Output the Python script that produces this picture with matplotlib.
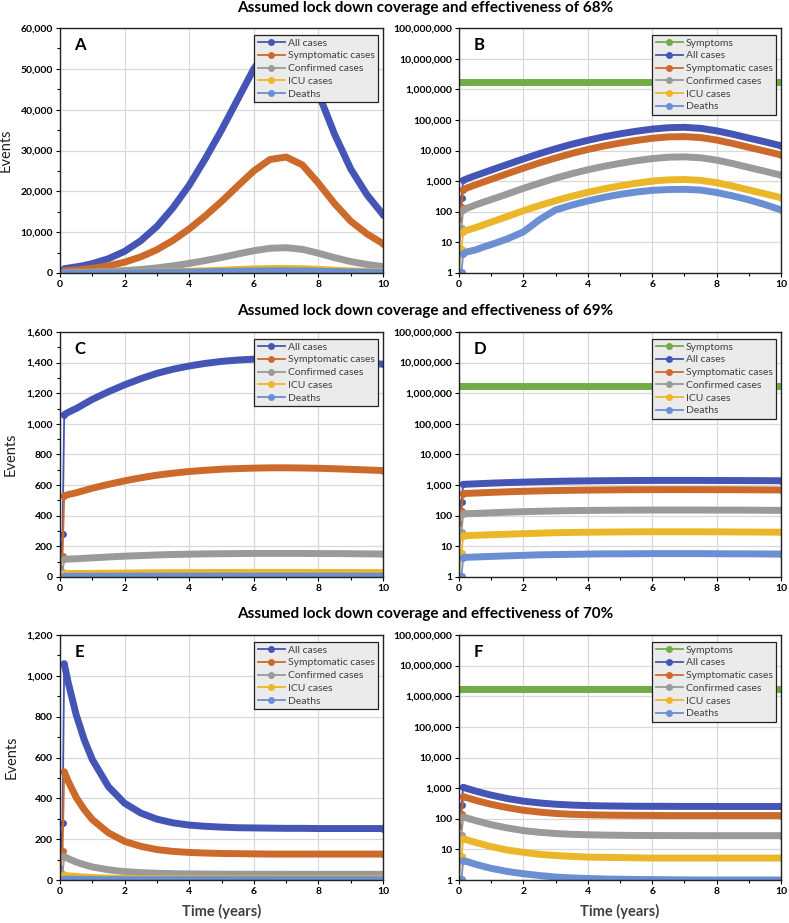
import matplotlib.pyplot as plt
import matplotlib.ticker as mticker
import numpy as np

plt.rcParams['font.family'] = ['Lato', 'DejaVu Sans']

# time points (years)
t = [0, 0.08, 0.13, 0.25, 0.5, 0.75, 1, 1.5, 2, 2.5, 3, 3.5, 4, 4.5, 5, 5.5,
     6, 6.5, 7, 7.5, 8, 8.5, 9, 9.5, 10]

symptoms = [1750000, 1750000, 1750000, 1750000, 1750000, 1750000, 1750000, 1750000,
            1750000, 1750000, 1750000, 1750000, 1750000, 1750000, 1750000, 1750000,
            1750000, 1750000, 1750000, 1750000, 1750000, 1750000, 1750000, 1750000, 1750000]

# 68% lock down
all68 = [60, 280, 1060, 1200, 1500, 1850, 2300, 3500, 5300, 7900, 11400, 16000, 21500,
         28000, 35000, 42500, 50000, 55500, 57000, 53000, 44000, 34000, 25500, 19200, 14300]
sym68 = [30, 140, 530, 600, 750, 930, 1150, 1750, 2650, 3950, 5700, 8000, 10800,
         14000, 17500, 21300, 25000, 27800, 28400, 26500, 22000, 17000, 12700, 9600, 7200]
conf68 = [6.5, 30, 115, 130, 165, 205, 250, 380, 580, 860, 1250, 1750, 2350,
          3050, 3800, 4650, 5450, 6050, 6200, 5800, 4850, 3750, 2800, 2100, 1570]
icu68 = [1.2, 6, 22, 25, 30, 37, 46, 70, 108, 160, 230, 320, 430,
         560, 700, 850, 1000, 1100, 1130, 1060, 890, 690, 515, 385, 290]
death68 = [0.2, 1.1, 4.3, 4.9, 5.6, 7.0, 8.5, 13, 22, 55, 115, 165, 225,
           295, 370, 440, 500, 530, 540, 510, 425, 330, 245, 172, 115]

# 69% lock down
all69 = [60, 280, 1060, 1075, 1100, 1130, 1160, 1210, 1255, 1295, 1330, 1357, 1378,
         1395, 1408, 1417, 1423, 1426, 1426, 1424, 1419, 1413, 1406, 1398, 1390]
sym69 = [30, 140, 530, 538, 550, 565, 580, 605, 628, 648, 665, 678, 689,
         697, 704, 708, 711, 713, 713, 712, 710, 707, 703, 699, 695]
conf69 = [6.5, 30, 115, 117, 119, 122, 125, 131, 136, 140, 144, 147, 149,
          151, 152, 153, 154, 154, 154, 154, 153, 153, 152, 151, 150]
icu69 = [1.2, 6, 22, 22.5, 23, 23.5, 24, 25, 26, 27, 28, 28.5, 29,
         29.3, 29.6, 29.8, 30, 30, 30, 29.9, 29.8, 29.6, 29.4, 29.2, 29]
death69 = [0.2, 1.1, 4.3, 4.4, 4.5, 4.6, 4.7, 4.9, 5.1, 5.3, 5.4, 5.5, 5.6,
           5.7, 5.7, 5.75, 5.8, 5.8, 5.8, 5.8, 5.75, 5.7, 5.7, 5.65, 5.6]

# 70% lock down
all70 = [60, 280, 1060, 969, 810, 687, 590, 457, 376, 328, 298, 280, 269,
         263, 259, 256, 255, 254, 253, 253, 252, 252, 252, 252, 252]
sym70 = [30, 140, 530, 485, 405, 345, 296, 231, 189, 165, 149, 140, 135,
         132, 130, 129, 128, 127, 127, 127, 127, 127, 127, 127, 127]
conf70 = [6.5, 30, 115, 105, 88, 75, 64, 50, 41, 36, 33, 31, 30,
          29.3, 28.8, 28.5, 28.3, 28.2, 28.1, 28, 28, 28, 28, 28, 28]
icu70 = [1.2, 6, 22, 20.5, 17, 14.5, 12.3, 9.5, 8.0, 6.9, 6.3, 5.9, 5.6,
         5.5, 5.4, 5.3, 5.2, 5.2, 5.2, 5.2, 5.2, 5.2, 5.2, 5.2, 5.2]
death70 = [0.2, 1.1, 4.3, 4.0, 3.3, 2.8, 2.4, 1.9, 1.6, 1.4, 1.25, 1.17, 1.12,
           1.08, 1.06, 1.04, 1.03, 1.02, 1.01, 1.0, 1.0, 1.0, 1.0, 1.0, 1.0]

names = ["All cases", "Symptomatic cases", "Confirmed cases", "ICU cases", "Deaths"]
colors = ["#4555B5", "#CC6A2C", "#9A9A9A", "#EBB628", "#6A8FD2"]
green = "#70AD47"
log_ticks = [1, 10, 100, 1000, 10000, 100000, 1000000, 10000000, 100000000]

scenarios = [("68%", [all68, sym68, conf68, icu68, death68], 60000, 10000, 5000),
             ("69%", [all69, sym69, conf69, icu69, death69], 1600, 200, 100),
             ("70%", [all70, sym70, conf70, icu70, death70], 1200, 200, 100)]
letters = [("A", "B"), ("C", "D"), ("E", "F")]

fig = plt.figure(figsize=(7.89, 9.23), dpi=100)
W, H = 789, 923
bottoms = [273, 577, 880]
title_y = [8, 311, 614]


def draw(ax, y, color, label, start=2):
    n = len(y)
    h, = ax.plot(t, y, color=color, lw=1.3, marker='o', ms=5, mew=0,
                 markevery=[0, 1, 2, n - 1], label=label)
    ax.plot(t[start:], y[start:], color=color, lw=5, solid_capstyle='round',
            solid_joinstyle='round')
    return h


def style(ax, letter):
    ax.set_xlim(0, 10)
    ax.xaxis.set_major_locator(mticker.MultipleLocator(2))
    ax.xaxis.set_minor_locator(mticker.MultipleLocator(1))
    ax.grid(True, which='major', color='#D9D9D9', lw=0.9)
    ax.set_axisbelow(True)
    for s in ax.spines.values():
        s.set_color('#222222')
        s.set_linewidth(1.0)
    ax.tick_params(which='both', direction='out', length=3, width=0.8, labelsize=7.5, pad=2)
    ax.tick_params(which='minor', length=2)
    for lab in ax.get_xticklabels() + ax.get_yticklabels():
        lab.set_fontweight('bold')
    ax.text(0.045, 0.93, letter, transform=ax.transAxes, fontsize=12, fontweight='bold',
            ha='left', va='center')


def legend(ax, handles):
    leg = ax.legend(handles=handles, loc='upper right', bbox_to_anchor=(0.995, 0.985),
                    fontsize=7.5, frameon=True, fancybox=False, framealpha=1,
                    facecolor='#EBEBEB', edgecolor='#222222', handlelength=2.6,
                    labelspacing=0.33, borderpad=0.35, handletextpad=0.3, borderaxespad=0.3)
    leg.get_frame().set_linewidth(0.9)
    for txt in leg.get_texts():
        txt.set_color('#404040')


for row, (pct, series, ymax, major, minor) in enumerate(scenarios):
    b = 1 - bottoms[row] / H
    h = 245 / H
    axl = fig.add_axes([60 / W, b, 323 / W, h])
    axr = fig.add_axes([459 / W, b, 322 / W, h])

    hl = [draw(axl, y, c, n) for y, c, n in zip(series, colors, names)]
    axl.set_ylim(0, ymax)
    axl.yaxis.set_major_locator(mticker.MultipleLocator(major))
    axl.yaxis.set_minor_locator(mticker.MultipleLocator(minor))
    axl.yaxis.set_major_formatter(mticker.FuncFormatter(lambda v, p: f"{int(v):,}"))
    style(axl, letters[row][0])
    legend(axl, hl)
    axl.set_ylabel("Events", fontsize=10.5, color='#222222', labelpad=6)

    hr = [draw(axr, symptoms, green, "Symptoms", start=0)]
    hr += [draw(axr, y, c, n) for y, c, n in zip(series, colors, names)]
    axr.set_yscale('log')
    axr.set_ylim(1, 1e8)
    axr.yaxis.set_major_locator(mticker.FixedLocator(log_ticks))
    axr.yaxis.set_minor_locator(mticker.NullLocator())
    axr.yaxis.set_major_formatter(mticker.FuncFormatter(lambda v, p: f"{int(round(v)):,}"))
    style(axr, letters[row][1])
    legend(axr, hr)

    fig.text(425 / W, 1 - title_y[row] / H,
             f"Assumed lock down coverage and effectiveness of {pct}",
             ha='center', va='center', fontsize=11, fontweight='bold')

    if row == 2:
        axl.set_xlabel("Time (years)", fontsize=10.5, fontweight='bold', color='#404040', labelpad=6)
        axr.set_xlabel("Time (years)", fontsize=10.5, fontweight='bold', color='#404040', labelpad=6)

fig.savefig("out.png", dpi=100)
